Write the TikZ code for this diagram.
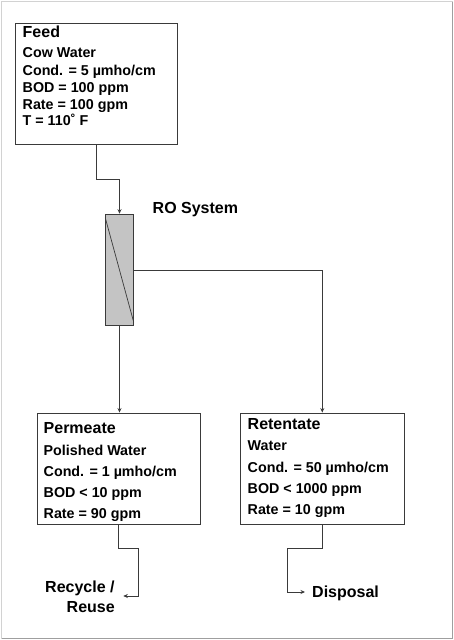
\documentclass[tikz,border=0pt]{standalone}
\usepackage{fontspec}
\setmainfont{Liberation Sans}
\usetikzlibrary{arrows.meta}
\definecolor{linec}{HTML}{3A3A3A}
\definecolor{rofill}{HTML}{C4C4C4}
\tikzset{
  box/.style={draw=linec, line width=0.9pt, inner sep=0pt, fill=white},
  flow/.style={draw=linec, line width=0.8pt},
  arr/.style={flow, -{Stealth[length=4.5pt,width=4pt]}},
  title/.style={anchor=base west, inner sep=0pt, font=\fontsize{16}{16}\selectfont\bfseries},
  item/.style={anchor=base west, inner sep=0pt, font=\fontsize{14.3}{14.3}\selectfont\bfseries},
  lbl/.style={anchor=base west, inner sep=0pt, font=\fontsize{16}{16}\selectfont\bfseries},
}
\begin{document}
\begin{tikzpicture}[x=1pt,y=-1pt]
\useasboundingbox (0,0) rectangle (454,640);
% outer frame
\draw[line width=1.6pt, gray!35] (1.5,638.5) -- (1.5,1.5) -- (452.5,1.5);
\draw[line width=1.8pt, gray!75] (452.5,1.5) -- (452.5,638.5) -- (1.5,638.5);
% boxes
\node[box, minimum width=162pt, minimum height=121pt] (feed) at (96,83.5) {};
\node[box, fill=rofill, minimum width=27.6pt, minimum height=111.7pt] (ro) at (119.5,270) {};
\node[box, minimum width=163.3pt, minimum height=111pt] (perm) at (118.8,468.5) {};
\node[box, minimum width=163.3pt, minimum height=111pt] (ret) at (322.3,468.5) {};
\draw[flow, line width=0.7pt] ([yshift=-4pt]ro.north west) -- ([yshift=4pt]ro.south east);
% feed text
\node[title] (f0) at (22.5,37.7) {Feed};
\node[item] (f1) at (22.5,57) {Cow Water};
\node[item] (f2) at (22.5,75) {Cond. = 5 µmho/cm};
\node[item] (f3) at (22.5,92.7) {BOD = 100 ppm};
\node[item] (f4) at (22.5,109) {Rate = 100 gpm};
\node[item] (f5) at (22.5,125) {T = 110˚ F};
% RO label
\node[lbl] (rolbl) at (152.5,213.7) {RO System};
% permeate text
\node[title] (p0) at (43.5,433.4) {Permeate};
\node[item] (p1) at (43.5,455) {Polished Water};
\node[item] (p2) at (43.5,476) {Cond. = 1 µmho/cm};
\node[item] (p3) at (43.5,497.3) {BOD < 10 ppm};
\node[item] (p4) at (43.5,518) {Rate = 90 gpm};
% retentate text
\node[title] (r0) at (247.5,429.7) {Retentate};
\node[item] (r1) at (247.5,450) {Water};
\node[item] (r2) at (247.5,472.3) {Cond. = 50 µmho/cm};
\node[item] (r3) at (247.5,493.7) {BOD < 1000 ppm};
\node[item] (r4) at (247.5,514.3) {Rate = 10 gpm};
% outlet labels
\node[lbl] (rec1) at (45,592.7) {Recycle /};
\node[lbl] (rec2) at (66.5,612.7) {Reuse};
\node[lbl] (disp) at (312,597.7) {Disposal};
\coordinate (recend) at (123.3,596);
\coordinate (recbend) at (138.3,596);
\coordinate (dispend) at (305,592);
\coordinate (dispbend) at (287.7,592);
% connectors
\draw[arr] (feed.south) -- ++(0,35) -| (ro.north);
\draw[arr] (ro.south) -- (ro.south |- perm.north);
\draw[arr] (ro.east) -| (ret.north);
\draw[arr] (perm.south) -- ++(0,24) -| (recbend) -- (recend);
\draw[arr] (ret.south) -- ++(0,24) -| (dispbend) -- (dispend);
\end{tikzpicture}
\end{document}
